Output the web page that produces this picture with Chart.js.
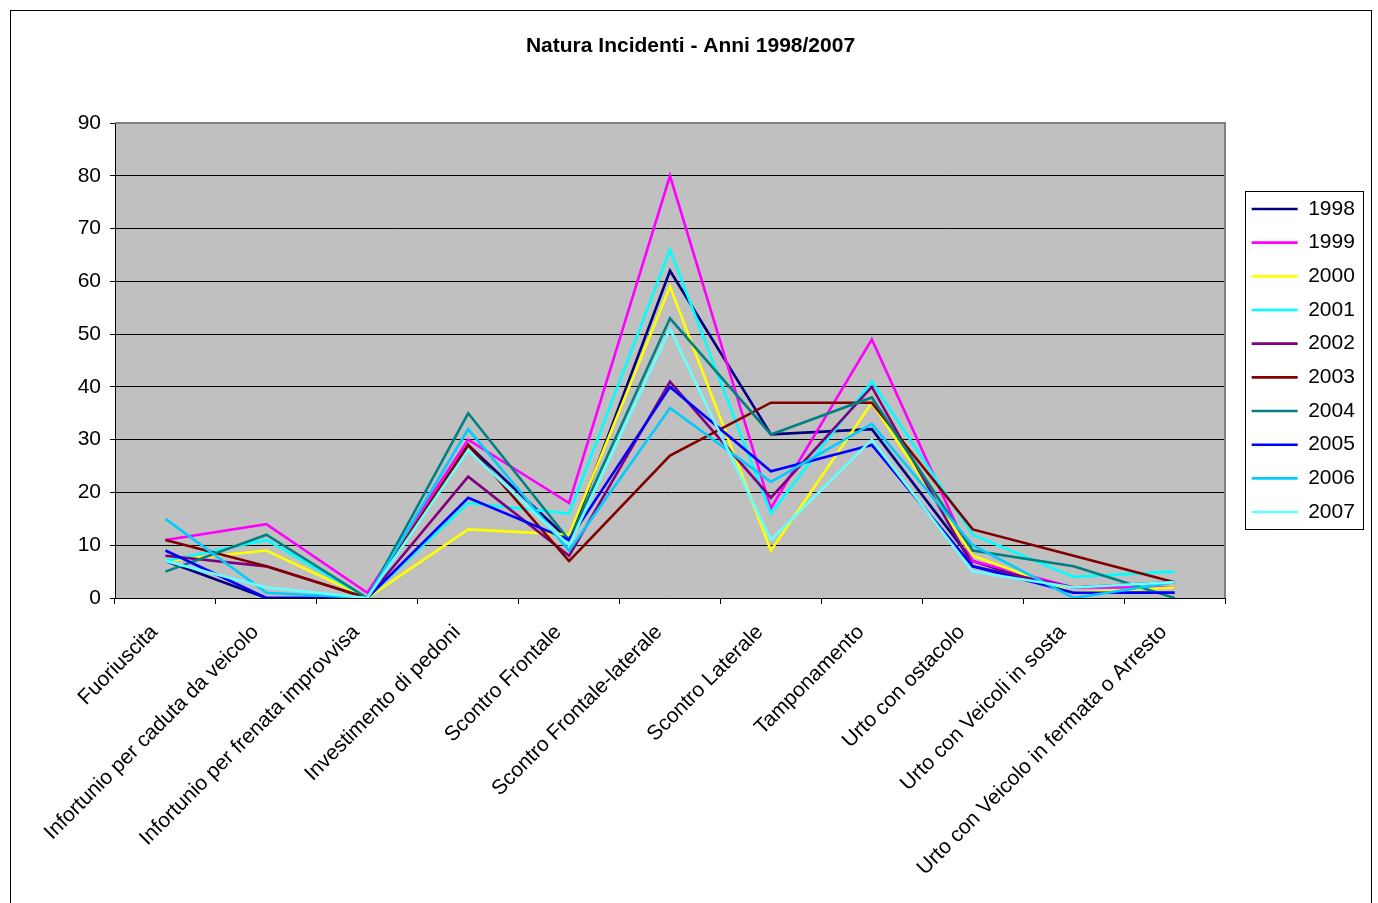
<!DOCTYPE html>
<html>
<head>
<meta charset="utf-8">
<title>Natura Incidenti - Anni 1998/2007</title>
<script src="https://cdn.jsdelivr.net/npm/chart.js@4.4.1/dist/chart.umd.min.js"></script>
<style>
    body { margin: 0; background: #ffffff; }
    canvas { display: block; }
</style>
</head>
<body>
<canvas id="myLineChart" width="1378" height="903"></canvas>
<script>
/* data */

var categories = ['Fuoriuscita', 'Infortunio per caduta da veicolo', 'Infortunio per frenata improvvisa',
    'Investimento di pedoni', 'Scontro Frontale', 'Scontro Frontale-laterale', 'Scontro Laterale',
    'Tamponamento', 'Urto con ostacolo', 'Urto con Veicoli in sosta', 'Urto con Veicolo in fermata o Arresto'];

var years = ['1998', '1999', '2000', '2001', '2002', '2003', '2004', '2005', '2006', '2007'];

var y1998 = [7, 0, 0, 29, 11, 62, 31, 32, 7, 1, 1];
var y1999 = [11, 14, 1, 30, 18, 80, 17, 49, 7, 2, 2];
var y2000 = [7, 9, 0, 13, 12, 59, 9, 37, 8, 1, 2];
var y2001 = [7, 11, 0, 18, 16, 66, 16, 41, 12, 4, 5];
var y2002 = [8, 6, 0, 23, 8, 41, 19, 40, 6, 2, 3];
var y2003 = [11, 6, 0, 29, 7, 27, 37, 37, 13, 8, 3];
var y2004 = [5, 12, 0, 35, 11, 53, 31, 38, 9, 6, 0];
var y2005 = [9, 0, 0, 19, 11, 40, 24, 29, 6, 1, 1];
var y2006 = [15, 1, 0, 32, 9, 36, 22, 33, 10, 0, 3];
var y2007 = [7, 2, 0, 28, 10, 51, 11, 30, 5, 2, 3];

var yTicks = [0, 10, 20, 30, 40, 50, 60, 70, 80, 90];

var seriesValues = [y1998, y1999, y2000, y2001, y2002, y2003, y2004, y2005, y2006, y2007];
var lineColors = ['#000080', '#ff00ff', '#ffff00', '#00ffff', '#800080', '#800000', '#008080', '#0000ff', '#00ccff', '#66ffff'];

Chart.defaults.font.family = "'Liberation Sans', Arial, sans-serif";
Chart.defaults.color = '#000000';

var datasets = [];
for (var i = 0; i < years.length; i++) {
    datasets.push({
        label: years[i],
        data: seriesValues[i],
        borderColor: lineColors[i],
        backgroundColor: lineColors[i],
        borderWidth: 2.6,
        pointRadius: 0,
        fill: false,
        tension: 0,
        // later years drawn on top, like the original
        order: years.length - i
    });
}

// grey plot area, frames and legend box
var chartFrame = {
    id: 'chartFrame',
    afterLayout: function(chart) {
        chart.legend.left += 14;
        chart.legend.right += 14;
    },
    beforeDraw: function(chart) {
        var c = chart.ctx, a = chart.chartArea;
        c.save();
        c.fillStyle = '#c0c0c0';
        c.fillRect(a.left, a.top, a.right - a.left, a.bottom - a.top);
        c.restore();
    },
    beforeDatasetsDraw: function(chart) {
        var c = chart.ctx, a = chart.chartArea;
        c.save();
        c.strokeStyle = '#808080';
        c.lineWidth = 2;
        c.beginPath();
        c.moveTo(a.left, a.top);
        c.lineTo(a.right, a.top);
        c.lineTo(a.right, a.bottom);
        c.stroke();
        c.restore();
    },
    afterDraw: function(chart) {
        var c = chart.ctx;
        var hb = chart.legend.legendHitBoxes;
        c.save();
        c.strokeStyle = '#000000';
        c.lineWidth = 1;
        c.strokeRect(10.5, 10.5, 1361, 910);
        if (hb && hb.length) {
            var first = hb[0], last = hb[hb.length - 1];
            c.strokeRect(Math.round(first.left - 7) + 0.5, Math.round(first.top - 7) + 0.5,
                118, Math.round(last.top + last.height - first.top + 14));
        }
        c.restore();
    }
};

var ctx = document.getElementById('myLineChart').getContext('2d');
var lineChart = new Chart(ctx, {
    type: 'line',
    data: {
        labels: categories,
        datasets: datasets
    },
    options: {
        responsive: false,
        animation: false,
        layout: {
            padding: { top: 10, left: 32, right: 29, bottom: 0 }
        },
        plugins: {
            title: {
                display: true,
                text: 'Natura Incidenti - Anni 1998/2007',
                color: '#000000',
                font: { size: 21, weight: 'bold' },
                padding: { top: 23.4, bottom: 64.4 }
            },
            legend: {
                position: 'right',
                fullSize: false,
                maxWidth: 124,
                labels: {
                    usePointStyle: true,
                    pointStyle: 'line',
                    pointStyleWidth: 46,
                    padding: 12.67,
                    color: '#000000',
                    font: { size: 21 },
                    sort: function(a, b) { return a.datasetIndex - b.datasetIndex; }
                }
            },
            tooltip: { enabled: false }
        },
        scales: {
            x: {
                offset: true,
                grid: {
                    offset: true,
                    drawOnChartArea: false,
                    color: '#000000',
                    tickLength: 6
                },
                border: { color: '#000000', width: 1 },
                ticks: {
                    autoSkip: false,
                    maxRotation: 45,
                    minRotation: 45,
                    padding: 16,
                    labelOffset: -11,
                    color: '#000000',
                    font: { size: 21 }
                },
                afterFit: function(scale) { scale.height = 305; }
            },
            y: {
                min: 0,
                max: 90,
                afterBuildTicks: function(scale) {
                    scale.ticks = yTicks.map(function(v) { return { value: v }; });
                },
                grid: {
                    color: '#000000',
                    tickLength: 5
                },
                border: { color: '#000000', width: 1 },
                ticks: {
                    padding: 9,
                    color: '#000000',
                    font: { size: 21 }
                },
                afterFit: function(scale) { scale.width = 83; }
            }
        }
    },
    plugins: [chartFrame]
});
</script>
</body>
</html>
